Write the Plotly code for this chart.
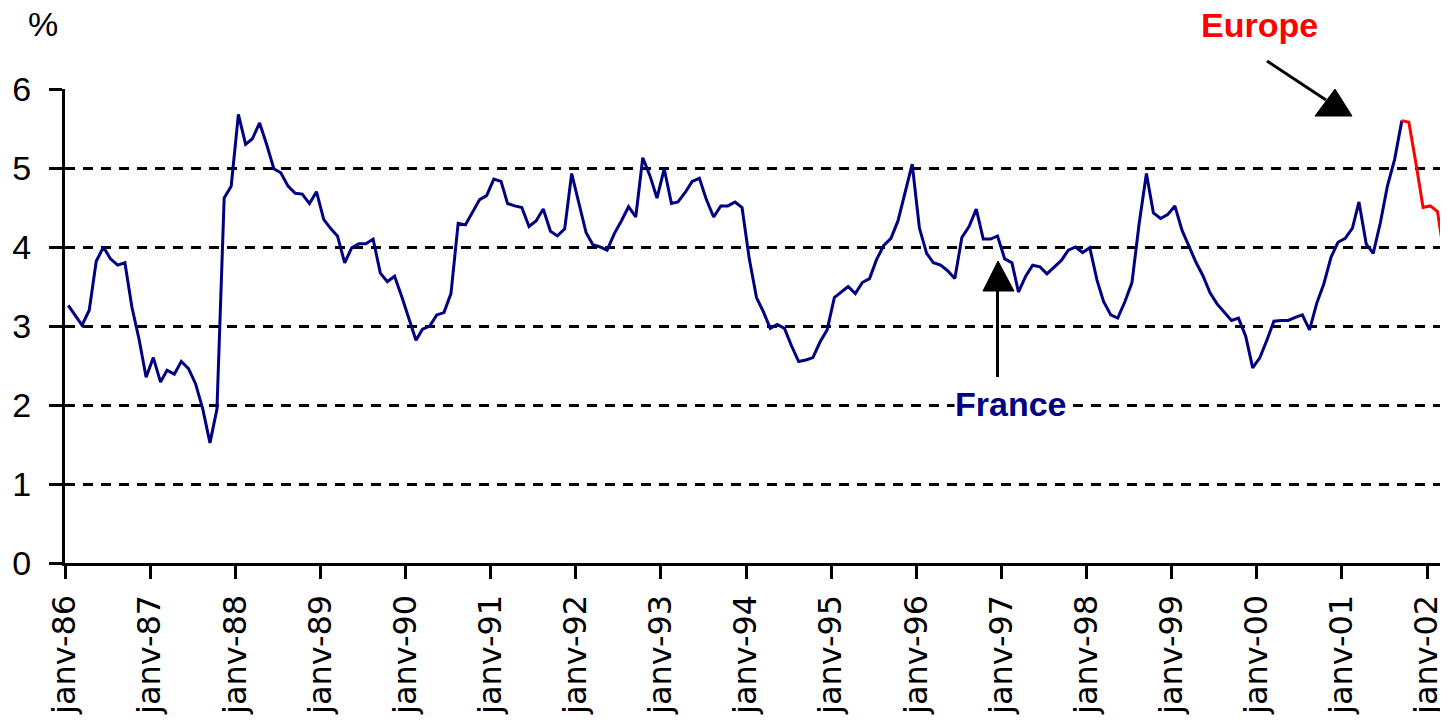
import pandas as pd
import plotly.graph_objects as go

# ---- data (monthly, %) ----
france = [
    3.26, 3.12, 3.01, 3.20, 3.82, 4.00, 3.85, 3.77, 3.80, 3.24, 2.83, 2.35,   # 1986
    2.60, 2.29, 2.44, 2.39, 2.55, 2.46, 2.27, 1.95, 1.52, 1.95, 4.62, 4.77,   # 1987
    5.68, 5.30, 5.37, 5.57, 5.30, 4.99, 4.94, 4.77, 4.68, 4.67, 4.55, 4.70,   # 1988
    4.35, 4.23, 4.14, 3.80, 3.99, 4.04, 4.04, 4.10, 3.67, 3.56, 3.63, 3.38,   # 1989
    3.09, 2.82, 2.96, 3.00, 3.14, 3.17, 3.41, 4.30, 4.28, 4.43, 4.60, 4.65,   # 1990
    4.86, 4.83, 4.55, 4.52, 4.50, 4.26, 4.33, 4.48, 4.20, 4.14, 4.23, 4.93,   # 1991
    4.57, 4.18, 4.03, 4.00, 3.96, 4.17, 4.33, 4.51, 4.38, 5.13, 4.90, 4.62,   # 1992
    4.99, 4.55, 4.57, 4.69, 4.83, 4.87, 4.60, 4.38, 4.52, 4.52, 4.57, 4.50,   # 1993
    3.85, 3.36, 3.19, 2.97, 3.02, 2.97, 2.75, 2.55, 2.57, 2.60, 2.80, 2.95,   # 1994
    3.36, 3.43, 3.50, 3.41, 3.55, 3.60, 3.84, 4.02, 4.11, 4.33, 4.69, 5.05,   # 1995
    4.24, 3.92, 3.80, 3.77, 3.70, 3.60, 4.12, 4.26, 4.48, 4.10, 4.10, 4.14,   # 1996
    3.85, 3.80, 3.43, 3.63, 3.77, 3.75, 3.66, 3.75, 3.83, 3.96, 4.00, 3.93,   # 1997
    3.99, 3.58, 3.31, 3.14, 3.10, 3.31, 3.55, 4.30, 4.93, 4.43, 4.36, 4.41,   # 1998
    4.52, 4.21, 4.02, 3.81, 3.64, 3.42, 3.28, 3.18, 3.07, 3.10, 2.87, 2.47,   # 1999
    2.60, 2.83, 3.06, 3.07, 3.07, 3.11, 3.14, 2.95, 3.29, 3.53, 3.87, 4.06,   # 2000
    4.11, 4.24, 4.57, 4.04, 3.92, 4.31, 4.77, 5.11, 5.60,                     # 2001 (to Sep)
]
europe = [5.60, 5.58, 5.05, 4.50, 4.52, 4.45, 3.90]   # Sep 2001 -> Mar 2002

years = list(range(1986, 2003))
tick_text = ["janv-%02d" % (y % 100) for y in years]

months_fr = pd.date_range("1986-01-01", periods=len(france), freq="MS") + pd.Timedelta(days=14)
months_eu = pd.date_range("2001-09-01", periods=len(europe), freq="MS") + pd.Timedelta(days=14)
tick_vals = [pd.Timestamp(f"{y}-01-01") for y in years]

# ---- figure (page body has an 8px margin, so the figure is kept inside the window) ----
W, H = 1440, 708
L, R, T, B = 57, 0, 81, 153
pw, ph = W - L - R, H - T - B   # 1383 x 474


def px(x):  # screen pixel -> paper
    return (x - 65) / pw


def py(y):
    return (563 - y) / ph


NAVY = "#000080"
fig = go.Figure()
fig.add_trace(go.Scatter(x=months_fr, y=france, mode="lines",
                         line=dict(color=NAVY, width=3), name="France",
                         showlegend=False))
fig.add_trace(go.Scatter(x=months_eu, y=europe, mode="lines",
                         line=dict(color="#FF0000", width=3), name="Europe",
                         showlegend=False))

tickfont = dict(family="Liberation Sans, Arial, sans-serif", size=34, color="black")

fig.update_layout(
    width=W, height=H,
    margin=dict(l=L, r=R, t=T, b=B, pad=0),
    paper_bgcolor="white", plot_bgcolor="white",
    xaxis=dict(
        range=["1986-01-01", "2002-04-01"],
        tickvals=tick_vals, ticktext=tick_text, tickangle=-90,
        ticks="outside", ticklen=13, tickwidth=3, tickcolor="black",
        showline=True, linewidth=3, linecolor="black",
        showgrid=False, zeroline=False, automargin=False,
        tickfont=dict(family="DejaVu Sans, sans-serif", size=32, color="black"),
        ticklabelstandoff=3,
    ),
    yaxis=dict(
        range=[0, 6], tickvals=[0, 1, 2, 3, 4, 5, 6],
        ticks="outside", ticklen=13, tickwidth=3, tickcolor="black",
        showline=True, linewidth=3, linecolor="black",
        showgrid=True, gridcolor="black", gridwidth=3, griddash="10px,8px",
        zeroline=False, automargin=False, tickfont=tickfont, ticklabelstandoff=11,
    ),
)

# text annotations
fig.add_annotation(text="%", xref="paper", yref="paper", x=px(43), y=py(24),
                   showarrow=False, xanchor="center", yanchor="middle",
                   font=dict(family="Liberation Sans, Arial, sans-serif", size=34, color="black"))
fig.add_annotation(text="<b>Europe</b>", xref="paper", yref="paper", x=px(1259), y=py(25),
                   showarrow=False, xanchor="center", yanchor="middle",
                   font=dict(family="Liberation Sans, Arial, sans-serif", size=34, color="#FF0000"))
fig.add_annotation(text="<b>France</b>", xref="paper", yref="paper", x=px(1011), y=py(404),
                   showarrow=False, xanchor="center", yanchor="middle", bgcolor="white",
                   borderpad=0,
                   font=dict(family="Liberation Sans, Arial, sans-serif", size=34, color=NAVY))

# arrows (line + triangular head)
fig.add_shape(type="line", xref="paper", yref="paper",
              x0=px(997.5), y0=py(377), x1=px(997.5), y1=py(291),
              line=dict(color="black", width=3), layer="above")
fig.add_shape(type="path", xref="paper", yref="paper",
              path=f"M {px(998)},{py(261)} L {px(983)},{py(291)} L {px(1014)},{py(291)} Z",
              fillcolor="black", line=dict(color="black", width=1), layer="above")
fig.add_shape(type="line", xref="paper", yref="paper",
              x0=px(1267), y0=py(61), x1=px(1326), y1=py(100),
              line=dict(color="black", width=3), layer="above")
fig.add_shape(type="path", xref="paper", yref="paper",
              path=f"M {px(1335)},{py(89)} L {px(1315)},{py(116)} L {px(1352)},{py(116)} Z",
              fillcolor="black", line=dict(color="black", width=1), layer="above")

fig.write_html("out.html")
